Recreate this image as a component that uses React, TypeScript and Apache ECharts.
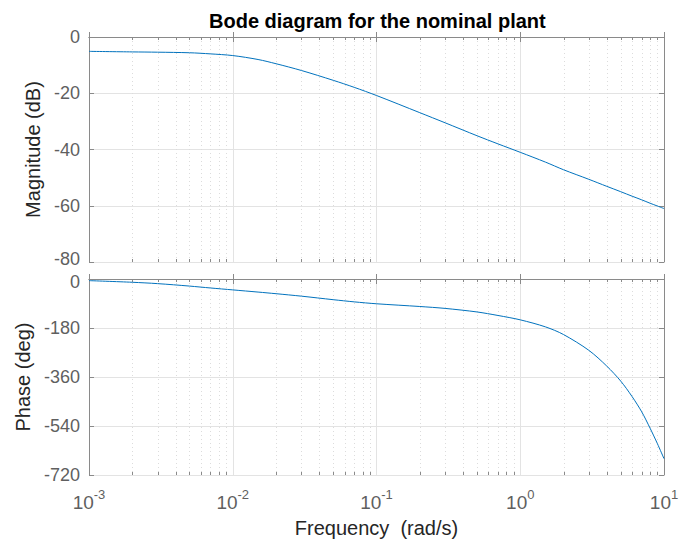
import React, { useEffect, useRef } from 'react';
import * as echarts from 'echarts';

// Frequency points (rad/s)
const frequency = [0.001, 0.002, 0.003, 0.005, 0.007, 0.01, 0.015, 0.02, 0.03, 0.05, 0.07, 0.1, 0.2, 0.3, 0.5, 0.7, 1, 1.5, 2, 3, 4, 5, 6, 7, 8, 9, 10];
// Magnitude (dB)
const magnitudeDb = [-5.1, -5.3, -5.4, -5.6, -6.0, -6.6, -8.0, -9.5, -11.9, -15.4, -17.9, -20.8, -26.9, -30.5, -35.1, -38.0, -41.0, -44.5, -47.2, -50.6, -53.1, -55.0, -56.6, -57.9, -59.1, -60.1, -61.0];
// Phase (deg)
const phaseDeg = [-6, -12, -17, -26, -33, -40, -48, -54, -63, -76, -84, -91, -101, -108, -121, -134, -150, -176, -204, -262, -320, -375, -432, -488, -548, -605, -660];
// Minor log grid values
const minorFreqs = [0.002, 0.003, 0.004, 0.005, 0.006, 0.007, 0.008, 0.009, 0.02, 0.03, 0.04, 0.05, 0.06, 0.07, 0.08, 0.09, 0.2, 0.3, 0.4, 0.5, 0.6, 0.7, 0.8, 0.9, 2, 3, 4, 5, 6, 7, 8, 9];

const FONT = '"Liberation Sans", Arial, Helvetica, sans-serif';
const BOX = '#8a8a8a';
const GRID = '#e3e3e3';
const TICKLABEL = '#5f5f5f';
const NAME = '#262626';

function minorGridItem(params: any, api: any) {
  const cs = params.coordSys;
  const x = Math.round(api.coord([api.value(0), api.value(1)])[0]) + 0.5;
  return {
    type: 'group',
    children: [
      { type: 'line', shape: { x1: x, y1: cs.y, x2: x, y2: cs.y + cs.height }, style: { stroke: '#dcdcdc', lineWidth: 1, lineDash: [1, 3] } },
      { type: 'line', shape: { x1: x, y1: cs.y, x2: x, y2: cs.y + 3 }, style: { stroke: BOX, lineWidth: 1 } },
      { type: 'line', shape: { x1: x, y1: cs.y + cs.height - 3, x2: x, y2: cs.y + cs.height }, style: { stroke: BOX, lineWidth: 1 } },
    ],
  };
}

const labelStyle = { fontFamily: FONT, fontSize: 18, color: TICKLABEL };

export default function App() {
  const ref = useRef<HTMLDivElement>(null);
  useEffect(() => {
    if (!ref.current) return;
    const chart = echarts.init(ref.current, undefined, { renderer: 'svg' });
    const xBase = (gridIndex: number, position: 'top' | 'bottom', showLabel: boolean, showSplit: boolean) => ({
      type: 'log',
      logBase: 10,
      min: 0.001,
      max: 10,
      gridIndex,
      position,
      axisLine: { show: true, lineStyle: { color: BOX, width: 1 } },
      axisTick: { show: true, inside: true, length: 5, lineStyle: { color: BOX } },
      splitLine: { show: showSplit, lineStyle: { color: GRID, width: 1 } },
      axisLabel: {
        show: showLabel,
        margin: 13,
        formatter: (v: number) => `{b|10}{s|${Math.round(Math.log10(v))}}`,
        rich: {
          b: { fontFamily: FONT, fontSize: 19, color: TICKLABEL, verticalAlign: 'bottom', lineHeight: 24 },
          s: { fontFamily: FONT, fontSize: 13, color: TICKLABEL, verticalAlign: 'top', lineHeight: 24, padding: [0, 0, 11, 0] },
        },
      },
    });
    const yBase = (gridIndex: number, position: 'left' | 'right', min: number, max: number, interval: number, showLabel: boolean, showSplit: boolean, name?: string, nameGap?: number) => ({
      type: 'value',
      gridIndex,
      position,
      min,
      max,
      interval,
      name: name || '',
      nameLocation: 'middle',
      nameGap: nameGap || 0,
      nameTextStyle: { fontFamily: FONT, fontSize: 20, color: NAME },
      axisLine: { show: true, lineStyle: { color: BOX, width: 1 } },
      axisTick: { show: true, inside: true, length: 5, lineStyle: { color: BOX } },
      splitLine: { show: showSplit, lineStyle: { color: GRID, width: 1 } },
      axisLabel: {
        show: showLabel,
        ...labelStyle,
        margin: 9,
        // nudge the two labels that meet between the plots apart
        formatter: (v: number) => (v === min && gridIndex === 0 ? `{up|${v}}` : v === max && gridIndex === 1 ? `{dn|${v}}` : `{n|${v}}`),
        rich: {
          n: { ...labelStyle },
          up: { ...labelStyle, padding: [0, 0, 6, 0] },
          dn: { ...labelStyle, padding: [6, 0, 0, 0] },
        },
      },
    });
    chart.setOption({
      animation: false,
      backgroundColor: '#ffffff',
      title: {
        text: 'Bode diagram for the nominal plant',
        left: 204,
        top: 6,
        textStyle: { fontFamily: FONT, fontSize: 20, fontWeight: 'bold', color: '#000000' },
      },
      grid: [
        { left: 89, top: 37, width: 575, height: 225 },
        { left: 89, top: 279, width: 575, height: 199 },
      ],
      xAxis: [
        xBase(0, 'bottom', false, true),
        xBase(0, 'top', false, false),
        {
          ...xBase(1, 'bottom', true, true),
          name: 'Frequency  (rad/s)',
          nameLocation: 'middle',
          nameGap: 43,
          nameTextStyle: { fontFamily: FONT, fontSize: 20, color: NAME },
        },
        xBase(1, 'top', false, false),
      ],
      yAxis: [
        yBase(0, 'left', -80, 0, 20, true, true, 'Magnitude (dB)', 44),
        yBase(0, 'right', -80, 0, 20, false, false),
        yBase(1, 'left', -720, 0, 180, true, true, 'Phase (deg)', 54),
        yBase(1, 'right', -720, 0, 180, false, false),
      ],
      series: [
        {
          type: 'custom',
          xAxisIndex: 0,
          yAxisIndex: 0,
          data: minorFreqs.map((f) => [f, -40]),
          renderItem: minorGridItem,
          silent: true,
          z: 1,
        },
        {
          type: 'custom',
          xAxisIndex: 2,
          yAxisIndex: 2,
          data: minorFreqs.map((f) => [f, -360]),
          renderItem: minorGridItem,
          silent: true,
          z: 1,
        },
        {
          name: 'Magnitude',
          type: 'line',
          xAxisIndex: 0,
          yAxisIndex: 0,
          data: frequency.map((f, i) => [f, magnitudeDb[i]]),
          showSymbol: false,
          smooth: 0.3,
          lineStyle: { color: '#0072BD', width: 1 },
          z: 5,
        },
        {
          name: 'Phase',
          type: 'line',
          xAxisIndex: 2,
          yAxisIndex: 2,
          data: frequency.map((f, i) => [f, phaseDeg[i]]),
          showSymbol: false,
          smooth: 0.3,
          lineStyle: { color: '#0072BD', width: 1 },
          z: 5,
        },
      ],
    });
    return () => chart.dispose();
  }, []);
  return <div ref={ref} style={{ position: 'fixed', left: 0, top: 0, width: 692, height: 539 }} />;
}
